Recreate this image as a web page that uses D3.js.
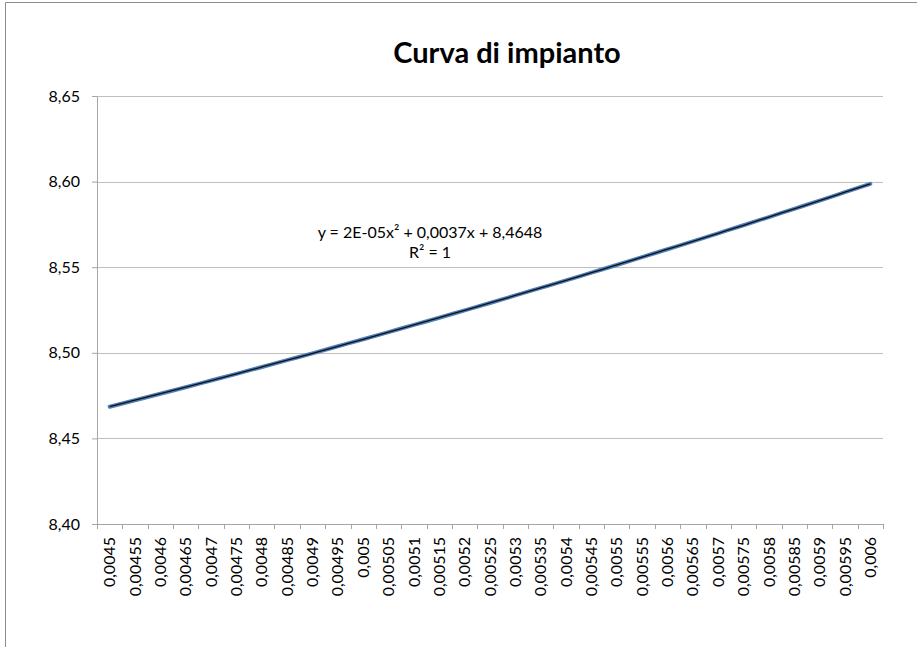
<!DOCTYPE html>
<html>
<head>
<meta charset="utf-8">
<script src="https://cdn.jsdelivr.net/npm/d3@7"></script>
<style>
body { margin: 0; background: #fff; }
text { font-family: Lato, "Open Sans", sans-serif; fill: #000; }
</style>
</head>
<body>
<div id="chart-area"></div>
<script>
// portata (categorie) e prevalenza
var categories = ["0,0045","0,00455","0,0046","0,00465","0,0047","0,00475","0,0048","0,00485",
  "0,0049","0,00495","0,005","0,00505","0,0051","0,00515","0,0052","0,00525","0,0053","0,00535",
  "0,0054","0,00545","0,0055","0,00555","0,0056","0,00565","0,0057","0,00575","0,0058","0,00585",
  "0,0059","0,00595","0,006"]
var values = [8.4685, 8.4723, 8.4761, 8.4799, 8.4838, 8.4877, 8.4917, 8.4957, 8.4997, 8.5038,
  8.5079, 8.5121, 8.5163, 8.5205, 8.5248, 8.5291, 8.5335, 8.5379, 8.5423, 8.5468, 8.5513,
  8.5559, 8.5605, 8.5651, 8.5698, 8.5745, 8.5793, 8.5841, 8.5889, 8.5938, 8.5987]
var yTicks = [8.40, 8.45, 8.50, 8.55, 8.60, 8.65]
var equation = ["y = 2E-05x² + 0,0037x + 8,4648", "R² = 1"]

var W = 917, H = 647
var margin = {top: 96, right: 34, bottom: 123, left: 97}
var width = W - margin.left - margin.right
var height = H - margin.top - margin.bottom

var svg = d3.select("#chart-area").append("svg")
  .attr("width", W).attr("height", H)

// bordo area grafico
svg.append("path")
  .attr("d", "M5.5,647 V2.5 H917")
  .attr("fill", "none").attr("stroke", "#8c8c8c").attr("stroke-width", 1)

svg.append("text")
  .attr("x", 507).attr("y", 63)
  .attr("text-anchor", "middle")
  .attr("font-size", "29px").attr("font-weight", "bold")
  .text("Curva di impianto")

var g = svg.append("g").attr("transform", `translate(${margin.left}, ${margin.top})`)

var x = d3.scaleBand().domain(categories).range([0, width])
var y = d3.scaleLinear().domain([8.40, 8.65]).range([height, 0])

// griglia
g.selectAll(".grid").data(yTicks.slice(1)).enter().append("line")
  .attr("class", "grid")
  .attr("x1", 0).attr("x2", width)
  .attr("y1", d => Math.round(y(d)) + 0.5).attr("y2", d => Math.round(y(d)) + 0.5)
  .attr("stroke", "#bfbfbf")

var leftAxis = d3.axisLeft(y).tickValues(yTicks).tickSize(5).tickSizeOuter(0)
  .tickFormat(d => d3.format(".2f")(d).replace(".", ","))
var ga = g.append("g").attr("class", "left axis").call(leftAxis)
ga.selectAll("text").attr("font-size", "16px").attr("x", -17)
ga.selectAll("line, path").attr("stroke", "#a6a6a6")

var bottomAxis = d3.axisBottom(x).tickSize(0).tickSizeOuter(0)
var gb = g.append("g").attr("class", "bottom axis")
  .attr("transform", `translate(0, ${height})`).call(bottomAxis)
gb.select("path").attr("stroke", "#a6a6a6")
gb.selectAll("text")
  .attr("font-size", "16px")
  .attr("transform", "rotate(-90)")
  .attr("text-anchor", "end")
  .attr("x", -13).attr("y", 0).attr("dy", "0.35em")

// tacche tra le categorie
var bounds = categories.map(c => x(c)).concat([width])
gb.selectAll(".tk").data(bounds).enter().append("line")
  .attr("class", "tk")
  .attr("x1", d => Math.round(d) + 0.5).attr("x2", d => Math.round(d) + 0.5)
  .attr("y1", 0).attr("y2", 5)
  .attr("stroke", "#a6a6a6")

var line = d3.line()
  .x((d, i) => x(categories[i]) + x.bandwidth() / 2)
  .y(d => y(d))
  .curve(d3.curveMonotoneX)

g.append("path").datum(values)
  .attr("d", line).attr("fill", "none")
  .attr("stroke", "#4f81bd").attr("stroke-width", 4).attr("stroke-linecap", "round")

// linea di tendenza
g.append("path").datum(values)
  .attr("d", line).attr("fill", "none")
  .attr("stroke", "#111").attr("stroke-width", 1.3)

svg.selectAll(".eq").data(equation).enter().append("text")
  .attr("class", "eq")
  .attr("x", 430).attr("y", (d, i) => 238 + i * 20)
  .attr("text-anchor", "middle")
  .attr("font-size", "16px")
  .text(d => d)
</script>
</body>
</html>
